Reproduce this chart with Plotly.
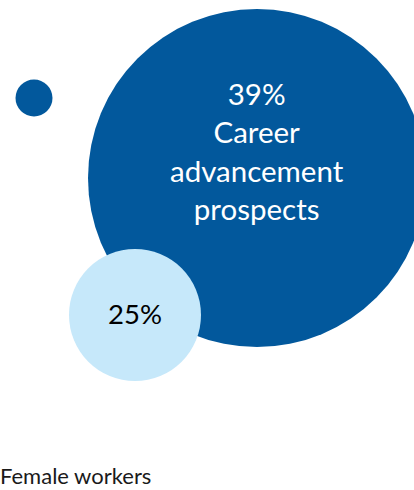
import plotly.graph_objects as go

# Share of workers naming each factor
labels = ["Career<br>advancement<br>prospects", "", ""]
values = [39, 25, None]
series_name = "Female workers"

# Bubble layout (pixel space: x to the right, y downward)
bubble_x = [257, 135, 34]
bubble_y = [178, 315, 98]
bubble_d = [338, 132, 37]
bubble_colors = ["#02589C", "#C6E8FA", "#02589C"]
label_colors = ["white", "black", "white"]
label_dy = [-27, -2, 0]
label_sizes = [29.5, 27.5, 27]

W, H = 414, 490
FONT = "Lato, 'Open Sans', sans-serif"

fig = go.Figure()
fig.add_trace(go.Scatter(
    x=bubble_x, y=bubble_y, mode="markers",
    marker=dict(size=bubble_d, sizemode="diameter", color=bubble_colors,
                opacity=1, line=dict(width=0)),
    hoverinfo="skip", showlegend=False, cliponaxis=False,
))

for x, y, v, lab, col, dy, fs in zip(bubble_x, bubble_y, values, labels,
                                      label_colors, label_dy, label_sizes):
    if v is None:
        continue
    txt = f"{v}%" + (f"<br>{lab}" if lab else "")
    fig.add_annotation(x=x, y=y + dy, text=txt, showarrow=False,
                       xanchor="center", yanchor="middle", align="center",
                       font=dict(family=FONT, size=fs, color=col))

# Series label along the bottom-left edge
fig.add_annotation(xref="paper", yref="paper", x=-2 / W, y=1 - 475 / H,
                   text=series_name, showarrow=False,
                   xanchor="left", yanchor="middle",
                   font=dict(family=FONT, size=22, color="#1a1a1a"))

fig.update_xaxes(range=[0, W], visible=False, fixedrange=True)
fig.update_yaxes(range=[H, 0], visible=False, fixedrange=True)
fig.update_layout(width=W, height=H, margin=dict(l=0, r=0, t=0, b=0),
                  paper_bgcolor="white", plot_bgcolor="white")

fig.write_html("out.html", config={"displayModeBar": False})
